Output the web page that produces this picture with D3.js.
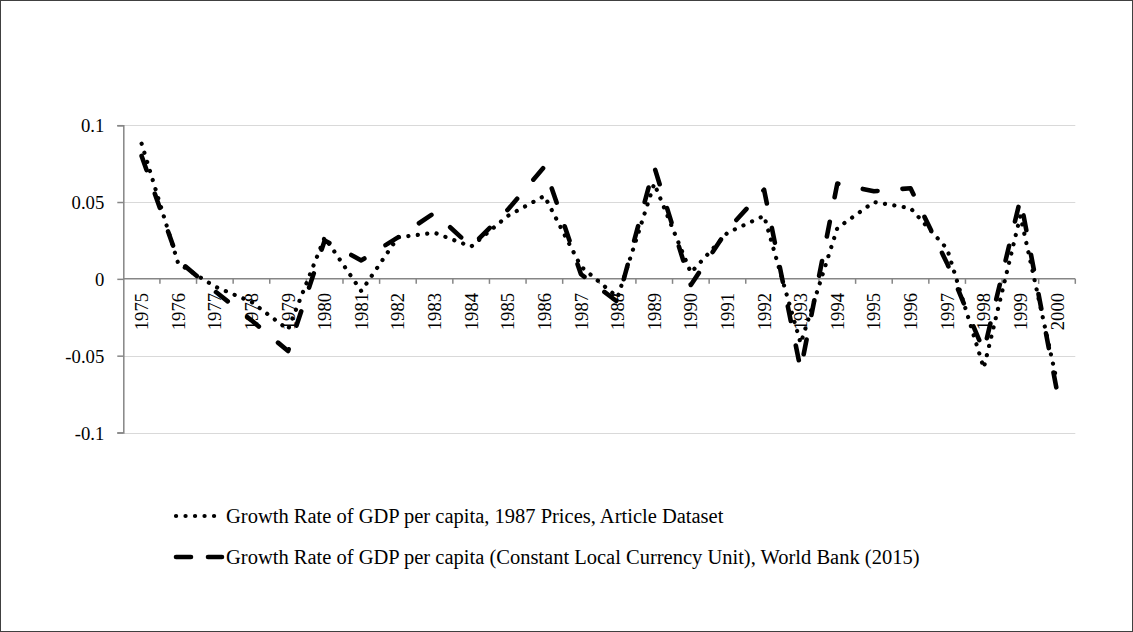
<!DOCTYPE html>
<html>
<head>
<meta charset="utf-8">
<script src="https://cdn.jsdelivr.net/npm/d3@7"></script>
<style>
  html, body { margin: 0; padding: 0; background: #fff; }
  svg { display: block; }
  text { font-family: "Liberation Serif", "Times New Roman", serif; fill: #000; }
</style>
</head>
<body>
<svg id="chart" width="1133" height="632"></svg>
<script>
const years = ["1975","1976","1977","1978","1979","1980","1981","1982","1983","1984","1985","1986","1987",
               "1988","1989","1990","1991","1992","1993","1994","1995","1996","1997","1998","1999","2000"];
const articleDataset = [0.088, 0.010, -0.005, -0.015, -0.033, 0.027, -0.008, 0.027, 0.030, 0.021, 0.041, 0.054, 0.008,
                        -0.012, 0.062, 0.004, 0.030, 0.041, -0.042, 0.033, 0.050, 0.046, 0.0195, -0.058, 0.041, -0.067];
const worldBank = [0.080, 0.012, -0.008, -0.027, -0.047, 0.025, 0.012, 0.027, 0.043, 0.021, 0.045, 0.073, 0.003,
                   -0.015, 0.073, -0.004, 0.032, 0.058, -0.059, 0.062, 0.057, 0.059, 0.010, -0.047, 0.052, -0.073];
const yTicks = [-0.1, -0.05, 0, 0.05, 0.1];
const yTickLabels = ["-0.1", "-0.05", "0", "0.05", "0.1"];
const seriesNames = [
  "Growth Rate of GDP per capita, 1987 Prices, Article Dataset",
  "Growth Rate of GDP per capita (Constant Local Currency Unit), World Bank (2015)"
];

const W = 1133, H = 632;
const svg = d3.select("#chart");
const FONT = 18.7;
const LEG_FONT = 20.5;

svg.append("rect").attr("x", 0.5).attr("y", 0.5).attr("width", W - 1).attr("height", H - 1)
  .attr("fill", "#fff").attr("stroke", "#404040").attr("stroke-width", 1);

const x = d3.scaleBand().domain(years).range([123.3, 1075.3]).padding(0);
const y = d3.scaleLinear().domain([-0.1, 0.1]).range([432.5, 125.2]);
const cx = d => x(d) + x.bandwidth() / 2;

// gridlines
svg.append("g").selectAll("line").data(yTicks.filter(v => v !== 0)).join("line")
  .attr("x1", 123.3).attr("x2", 1075.3)
  .attr("y1", d => Math.round(y(d)) + 0.5).attr("y2", d => Math.round(y(d)) + 0.5)
  .attr("stroke", "#d9d9d9").attr("stroke-width", 1);

// y axis
const yAxis = svg.append("g").attr("transform", "translate(123.3,0)")
  .call(d3.axisLeft(y).tickValues(yTicks).tickSize(6).tickFormat((d, i) => yTickLabels[i]));
yAxis.select(".domain").attr("stroke", "#868686").attr("stroke-width", 1.5);
yAxis.selectAll(".tick line").attr("stroke", "#868686").attr("stroke-width", 1.5);
yAxis.selectAll(".tick text").attr("x", -19).attr("dy", "0.35em")
  .style("font-family", "'Liberation Serif', serif").style("font-size", FONT + "px").attr("fill", "#000");

// x axis at zero
const xAxisG = svg.append("g").attr("transform", `translate(0,${y(0)})`);
xAxisG.append("line").attr("x1", 123.3).attr("x2", 1075.3).attr("y1", 0).attr("y2", 0)
  .attr("stroke", "#868686").attr("stroke-width", 1.5);
const boundaries = years.map(d => x(d)).concat([x(years[years.length - 1]) + x.bandwidth()]);
xAxisG.selectAll("line.tk").data(boundaries.slice(1)).join("line").attr("class", "tk")
  .attr("x1", d => d).attr("x2", d => d).attr("y1", 0).attr("y2", 5)
  .attr("stroke", "#868686").attr("stroke-width", 1.5);
xAxisG.selectAll("text").data(years).join("text")
  .attr("transform", d => `translate(${cx(d)},14) rotate(-90)`)
  .attr("text-anchor", "end").attr("dy", "0.35em")
  .style("font-size", FONT + "px").text(d => d);

// lines
const line = d3.line().x((d, i) => cx(years[i])).y(d => y(d));
svg.append("path").datum(articleDataset).attr("d", line)
  .attr("fill", "none").attr("stroke", "#000").attr("stroke-width", 4.2)
  .attr("stroke-linecap", "round").attr("stroke-linejoin", "round")
  .attr("stroke-dasharray", "0.1 9.4");
svg.append("path").datum(worldBank).attr("d", line)
  .attr("fill", "none").attr("stroke", "#000").attr("stroke-width", 4.6)
  .attr("stroke-linecap", "round").attr("stroke-linejoin", "round")
  .attr("stroke-dasharray", "15 25");

// legend
const legend = svg.append("g");
const legY = [516, 557];
const legStyles = [
  { w: 4.2, dash: "0.1 9.4", x1: 176 },
  { w: 4.6, dash: "15 17", x1: 176 }
];
seriesNames.forEach((name, i) => {
  legend.append("line").attr("x1", legStyles[i].x1).attr("x2", 222).attr("y1", legY[i]).attr("y2", legY[i])
    .attr("stroke", "#000").attr("stroke-width", legStyles[i].w)
    .attr("stroke-linecap", "round").attr("stroke-dasharray", legStyles[i].dash);
  legend.append("text").attr("x", 226).attr("y", legY[i]).attr("dy", "0.35em")
    .style("font-size", LEG_FONT + "px").text(name);
});
</script>
</body>
</html>
